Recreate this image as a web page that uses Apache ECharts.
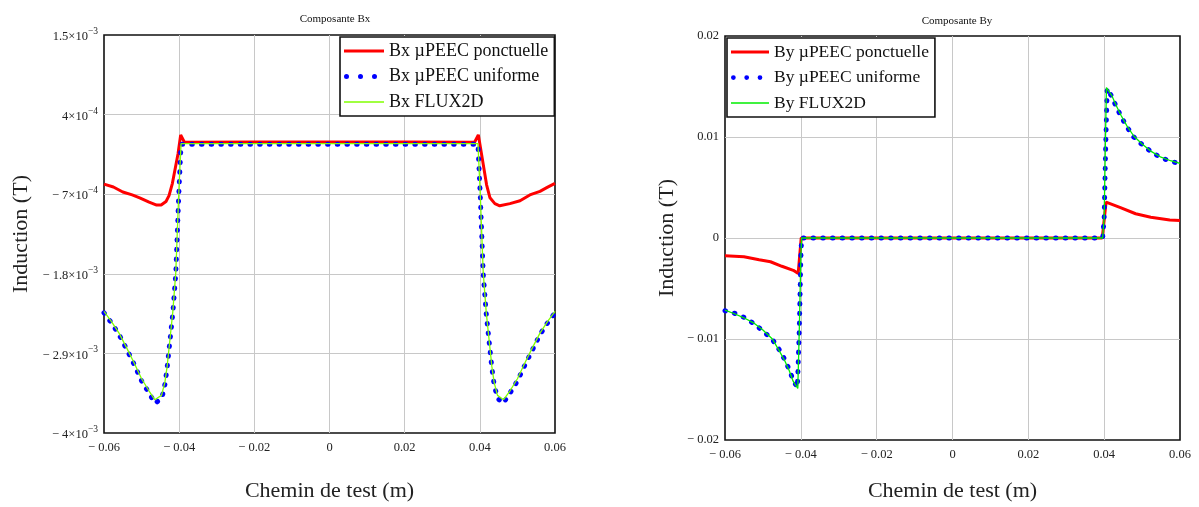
<!DOCTYPE html>
<html><head><meta charset="utf-8">
<script src="https://cdn.jsdelivr.net/npm/echarts@6/dist/echarts.min.js"></script>
<style>html,body{margin:0;padding:0;background:#fff}#c{width:1199px;height:507px}</style>
</head><body><div id="c"></div>
<script>
// ---------- tick labels ----------
const xTickValues = [-0.06, -0.04, -0.02, 0, 0.02, 0.04, 0.06];
const xTickLabels = ['− 0.06', '− 0.04', '− 0.02', '0', '0.02', '0.04', '0.06'];
const bxTickValues = [-0.004, -0.0029, -0.0018, -0.0007, 0.0004, 0.0015];
const bxTickMantissa = ['− 4', '− 2.9', '− 1.8', '− 7', '4', '1.5'];
const bxTickExponent = ['−3', '−3', '−3', '−4', '−4', '−3'];
const byTickValues = [-0.02, -0.01, 0, 0.01, 0.02];
const byTickLabels = ['− 0.02', '− 0.01', '0', '0.01', '0.02'];

// ---------- series names ----------
const bxNames = ['Bx µPEEC ponctuelle', 'Bx µPEEC uniforme', 'Bx FLUX2D'];
const byNames = ['By µPEEC ponctuelle', 'By µPEEC uniforme', 'By FLUX2D'];

// ---------- Bx data [x (m), B (T)] ----------
const bxPonctuelle = [
  [-0.060,-5.6e-4],[-0.0575,-6.0e-4],[-0.055,-6.7e-4],[-0.0525,-7.1e-4],[-0.0505,-7.5e-4],
  [-0.048,-8.1e-4],[-0.046,-8.5e-4],[-0.0448,-8.5e-4],[-0.0435,-8.0e-4],[-0.0427,-7.2e-4],
  [-0.0418,-5.5e-4],[-0.041,-3.3e-4],[-0.0403,-1.4e-4],[-0.0396,1.2e-4],[-0.0386,1.8e-5],
  [-0.02,2.2e-5],[0,2.2e-5],[0.02,2.2e-5],
  [0.0386,1.8e-5],[0.0396,1.2e-4],[0.0405,-1.6e-4],[0.0418,-5.7e-4],[0.0427,-7.5e-4],
  [0.044,-8.3e-4],[0.0453,-8.6e-4],[0.048,-8.3e-4],[0.0507,-7.9e-4],[0.0533,-7.1e-4],
  [0.056,-6.6e-4],[0.0578,-6.1e-4],[0.060,-5.5e-4]
];
const bxUniforme = [
  [-0.060,-2.34e-3],[-0.058,-2.48e-3],[-0.056,-2.64e-3],[-0.054,-2.84e-3],[-0.052,-3.05e-3],
  [-0.050,-3.28e-3],[-0.048,-3.45e-3],[-0.0464,-3.59e-3],[-0.0446,-3.52e-3],[-0.0438,-3.33e-3],
  [-0.0432,-3.10e-3],[-0.0427,-2.85e-3],[-0.0422,-2.60e-3],[-0.0417,-2.35e-3],[-0.0409,-1.8e-3],
  [-0.0401,-7.0e-4],[-0.0395,-1.0e-5],
  [0,-1.0e-5],
  [0.0395,-1.0e-5],[0.0401,-7.0e-4],[0.0409,-1.8e-3],[0.0417,-2.35e-3],[0.0422,-2.60e-3],
  [0.0427,-2.85e-3],[0.0432,-3.10e-3],[0.0438,-3.33e-3],[0.0447,-3.52e-3],[0.0462,-3.59e-3],
  [0.048,-3.45e-3],[0.050,-3.28e-3],[0.052,-3.06e-3],[0.054,-2.85e-3],[0.056,-2.64e-3],
  [0.058,-2.48e-3],[0.060,-2.34e-3]
];
const bxFlux2d = [
  [-0.060,-2.32e-3],[-0.058,-2.46e-3],[-0.056,-2.62e-3],[-0.054,-2.82e-3],[-0.052,-3.03e-3],
  [-0.050,-3.25e-3],[-0.048,-3.42e-3],[-0.0465,-3.54e-3],[-0.0447,-3.48e-3],[-0.0438,-3.30e-3],
  [-0.0432,-3.08e-3],[-0.0427,-2.83e-3],[-0.0422,-2.58e-3],[-0.0417,-2.33e-3],[-0.0409,-1.78e-3],
  [-0.0401,-6.8e-4],[-0.0395,0],
  [0,0],
  [0.0395,0],[0.0401,-6.8e-4],[0.0409,-1.78e-3],[0.0417,-2.33e-3],[0.0422,-2.58e-3],
  [0.0427,-2.83e-3],[0.0432,-3.08e-3],[0.0438,-3.30e-3],[0.0447,-3.48e-3],[0.0463,-3.54e-3],
  [0.048,-3.42e-3],[0.050,-3.25e-3],[0.052,-3.03e-3],[0.054,-2.82e-3],[0.056,-2.62e-3],
  [0.058,-2.46e-3],[0.060,-2.32e-3]
];

// ---------- By data [x (m), B (T)] ----------
const byPonctuelle = [
  [-0.060,-1.75e-3],[-0.055,-1.85e-3],[-0.051,-2.15e-3],[-0.048,-2.35e-3],[-0.045,-2.8e-3],
  [-0.042,-3.2e-3],[-0.0407,-3.5e-3],[-0.0399,0],
  [0,0],
  [0.0395,0],[0.0405,3.55e-3],[0.0443,3.0e-3],[0.0483,2.4e-3],[0.0523,2.05e-3],
  [0.0573,1.78e-3],[0.060,1.74e-3]
];
const byUniforme = [
  [-0.060,-7.2e-3],[-0.0575,-7.45e-3],[-0.055,-7.85e-3],[-0.0525,-8.45e-3],[-0.050,-9.2e-3],
  [-0.0475,-1.005e-2],[-0.0458,-1.10e-2],[-0.0443,-1.20e-2],[-0.0431,-1.30e-2],[-0.042,-1.41e-2],
  [-0.0409,-1.48e-2],[-0.0404,-9.0e-3],[-0.0400,-2.0e-3],[-0.0398,0],
  [0,0],
  [0.0396,0],[0.0400,2.0e-3],[0.0404,9.0e-3],[0.0408,1.48e-2],[0.042,1.40e-2],
  [0.0432,1.30e-2],[0.0445,1.20e-2],[0.046,1.10e-2],[0.0478,1.00e-2],[0.050,9.25e-3],
  [0.0525,8.5e-3],[0.055,7.95e-3],[0.0575,7.6e-3],[0.060,7.35e-3]
];
const byFlux2d = [
  [-0.060,-7.15e-3],[-0.0575,-7.5e-3],[-0.055,-7.9e-3],[-0.0525,-8.4e-3],[-0.050,-9.1e-3],
  [-0.0475,-1.0e-2],[-0.0458,-1.11e-2],[-0.0443,-1.21e-2],[-0.0431,-1.31e-2],[-0.042,-1.42e-2],
  [-0.0408,-1.49e-2],[-0.0404,-9.0e-3],[-0.0400,-2.0e-3],[-0.0398,0],
  [0,0],
  [0.0396,0],[0.0400,2.0e-3],[0.0403,9.0e-3],[0.0406,1.49e-2],[0.042,1.41e-2],
  [0.0432,1.31e-2],[0.0445,1.21e-2],[0.046,1.11e-2],[0.0478,1.01e-2],[0.050,9.3e-3],
  [0.0525,8.55e-3],[0.055,8.0e-3],[0.0575,7.65e-3],[0.060,7.4e-3]
];

// ---------- helpers ----------
const FONT = '"Liberation Serif", "Times New Roman", serif';
function pick(vals, labels, v) {
  let best = 0, d = Infinity;
  vals.forEach((t, i) => { const dd = Math.abs(t - v); if (dd < d) { d = dd; best = i; } });
  return labels[best];
}
const ICON_LINE = 'path://M0,0 L40,0 L40,3 L0,3 Z';
const ICON_THIN = 'path://M0,0 L40,0 L40,1.6 L0,1.6 Z';
const ICON_DOTS = 'path://M0,2.5 A2.5,2.5 0 1,0 5,2.5 A2.5,2.5 0 1,0 0,2.5 Z ' +
  'M14,2.5 A2.5,2.5 0 1,0 19,2.5 A2.5,2.5 0 1,0 14,2.5 Z ' +
  'M28,2.5 A2.5,2.5 0 1,0 33,2.5 A2.5,2.5 0 1,0 28,2.5 Z M40,2.5 L40,2.6 L39.9,2.6 Z';

const axisLabelStyle = { fontFamily: FONT, fontSize: 12.5, color: '#222' };
const gridLine = { show: true, showMinLine: false, showMaxLine: false, lineStyle: { color: '#c8c8c8', width: 1 } };

function xAxisDef(gridIndex, nameGap) {
  return {
    type: 'value', gridIndex, min: -0.06, max: 0.06, interval: 0.02,
    name: 'Chemin de test (m)', nameLocation: 'middle', nameGap,
    nameTextStyle: { fontFamily: FONT, fontSize: 22, color: '#222', verticalAlign: 'top' },
    axisLine: { show: false }, axisTick: { show: false }, splitLine: gridLine,
    axisLabel: Object.assign({ margin: 8, formatter: v => pick(xTickValues, xTickLabels, v) }, axisLabelStyle)
  };
}

const option = {
  animation: false,
  backgroundColor: '#fff',
  title: [
    { text: 'Composante Bx', left: 330, top: 9, textAlign: 'center',
      textStyle: { fontFamily: FONT, fontSize: 11, fontWeight: 'normal', color: '#111' } },
    { text: 'Composante By', left: 952, top: 11, textAlign: 'center',
      textStyle: { fontFamily: FONT, fontSize: 11, fontWeight: 'normal', color: '#111' } }
  ],
  grid: [
    { left: 104, top: 35, width: 451, height: 399, show: true, borderColor: '#111', borderWidth: 1.6, backgroundColor: 'transparent' },
    { left: 725, top: 36, width: 455, height: 405, show: true, borderColor: '#111', borderWidth: 1.6, backgroundColor: 'transparent' }
  ],
  xAxis: [ xAxisDef(0, 47), xAxisDef(1, 40) ],
  yAxis: [
    {
      type: 'value', gridIndex: 0, min: -0.004, max: 0.0015, interval: 0.0011,
      name: 'Induction (T)', nameLocation: 'middle', nameGap: 72,
      nameTextStyle: { fontFamily: FONT, fontSize: 22, color: '#222' },
      axisLine: { show: false }, axisTick: { show: false }, splitLine: gridLine,
      axisLabel: {
        margin: 6,
        formatter: v => {
          const m = pick(bxTickValues, bxTickMantissa, v);
          const e = pick(bxTickValues, bxTickExponent, v);
          return '{m|' + m + '×10}{e|' + e + '}';
        },
        rich: {
          m: { fontFamily: FONT, fontSize: 12.5, color: '#222', lineHeight: 17, verticalAlign: 'bottom' },
          e: { fontFamily: FONT, fontSize: 9.5, color: '#222', lineHeight: 10, verticalAlign: 'top' }
        }
      }
    },
    {
      type: 'value', gridIndex: 1, min: -0.02, max: 0.02, interval: 0.01,
      name: 'Induction (T)', nameLocation: 'middle', nameGap: 47,
      nameTextStyle: { fontFamily: FONT, fontSize: 22, color: '#222' },
      axisLine: { show: false }, axisTick: { show: false }, splitLine: gridLine,
      axisLabel: Object.assign({ margin: 6, formatter: v => pick(byTickValues, byTickLabels, v) }, axisLabelStyle)
    }
  ],
  legend: [
    {
      data: [ { name: bxNames[0], icon: ICON_LINE }, { name: bxNames[1], icon: ICON_DOTS }, { name: bxNames[2], icon: ICON_THIN } ],
      left: 340, top: 37, orient: 'vertical', itemWidth: 40, itemHeight: 14, itemGap: 7.5, itemTextGap: 6,
      padding: [5, 6, 5, 4], borderColor: '#111', borderWidth: 1.6, backgroundColor: '#fff',
      selectedMode: false, itemStyle: { borderWidth: 0 },
      textStyle: { fontFamily: FONT, fontSize: 18, color: '#111' }
    },
    {
      data: [ { name: byNames[0], icon: ICON_LINE }, { name: byNames[1], icon: ICON_DOTS }, { name: byNames[2], icon: ICON_THIN } ],
      left: 727, top: 38, orient: 'vertical', itemWidth: 38, itemHeight: 14, itemGap: 7.5, itemTextGap: 6,
      padding: [5, 6, 5, 4], borderColor: '#111', borderWidth: 1.6, backgroundColor: '#fff',
      selectedMode: false, itemStyle: { borderWidth: 0 },
      textStyle: { fontFamily: FONT, fontSize: 17.5, color: '#111' }
    }
  ],
  series: [
    { name: bxNames[0], type: 'line', xAxisIndex: 0, yAxisIndex: 0, data: bxPonctuelle, symbol: 'none',
      color: '#ff0000', lineStyle: { color: '#ff0000', width: 3 }, itemStyle: { color: '#ff0000' } },
    { name: bxNames[1], type: 'line', xAxisIndex: 0, yAxisIndex: 0, data: bxUniforme, symbol: 'none',
      color: '#0000ff', lineStyle: { color: '#0000ff', width: 5, type: [0.5, 9.2], cap: 'round' }, itemStyle: { color: '#0000ff' } },
    { name: bxNames[2], type: 'line', xAxisIndex: 0, yAxisIndex: 0, data: bxFlux2d, symbol: 'none',
      color: '#80ff00', lineStyle: { color: '#80ff00', width: 1.3 }, itemStyle: { color: '#80ff00' } },
    { name: byNames[0], type: 'line', xAxisIndex: 1, yAxisIndex: 1, data: byPonctuelle, symbol: 'none',
      color: '#ff0000', lineStyle: { color: '#ff0000', width: 3 }, itemStyle: { color: '#ff0000' } },
    { name: byNames[1], type: 'line', xAxisIndex: 1, yAxisIndex: 1, data: byUniforme, symbol: 'none',
      color: '#0000ff', lineStyle: { color: '#0000ff', width: 5, type: [0.5, 9.2], cap: 'round' }, itemStyle: { color: '#0000ff' } },
    { name: byNames[2], type: 'line', xAxisIndex: 1, yAxisIndex: 1, data: byFlux2d, symbol: 'none',
      color: '#00ee00', lineStyle: { color: '#00ee00', width: 1.3 }, itemStyle: { color: '#00ee00' } }
  ]
};
const chart = echarts.init(document.getElementById('c'), null, { renderer: 'canvas' });
chart.setOption(option);
</script>
</body></html>
